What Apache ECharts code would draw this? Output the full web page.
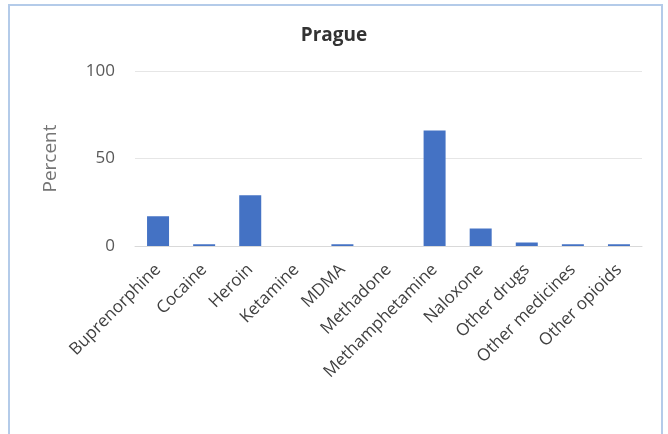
<!DOCTYPE html>
<html><head><meta charset="utf-8">
<script src="https://cdn.jsdelivr.net/npm/echarts@6/dist/echarts.min.js"></script>
<style>
html,body{margin:0;padding:0;background:#fff;}
#frame{position:absolute;left:8px;top:4px;width:655px;height:450px;border:2px solid #b4cbe9;box-sizing:border-box;}
#c{position:absolute;left:0;top:0;width:668px;height:434px;}
</style></head>
<body>
<div id="frame"></div>
<div id="c"></div>
<script>
const categories = ['Buprenorphine','Cocaine','Heroin','Ketamine','MDMA','Methadone','Methamphetamine','Naloxone','Other drugs','Other medicines','Other opioids'];
const values = [17, 1, 29, 0, 1, 0, 66, 10, 2, 1, 1];
const yTicks = [0, 50, 100];

const chart = echarts.init(document.getElementById('c'));
chart.setOption({
  animation: false,
  title: {text: 'Prague', left: 'center', top: 21, textStyle: {fontFamily: 'Open Sans', fontSize: 19, fontWeight: 'bold', color: '#333'}},
  grid: {left: 135, right: 26, top: 71, bottom: 188},
  xAxis: {
    type: 'category', data: categories,
    axisLine: {lineStyle: {color: '#d9d9d9'}},
    axisTick: {show: false},
    axisLabel: {rotate: 45, interval: 0, fontFamily: 'Open Sans', fontSize: 17, color: '#404040', margin: 21}
  },
  yAxis: {
    type: 'value', min: yTicks[0], max: yTicks[yTicks.length-1], interval: 50,
    name: 'Percent', nameLocation: 'middle', nameGap: 75, nameRotate: 90,
    nameTextStyle: {fontFamily: 'Open Sans', fontSize: 19, color: '#757575'},
    axisLabel: {fontFamily: 'Open Sans', fontSize: 17, color: '#595959', margin: 20},
    splitLine: {lineStyle: {color: '#e6e6e6'}},
    axisLine: {show: false}, axisTick: {show: false}
  },
  series: [{type: 'bar', data: values, barWidth: 22, itemStyle: {color: '#4472c4'}}]
});
</script>
</body></html>
